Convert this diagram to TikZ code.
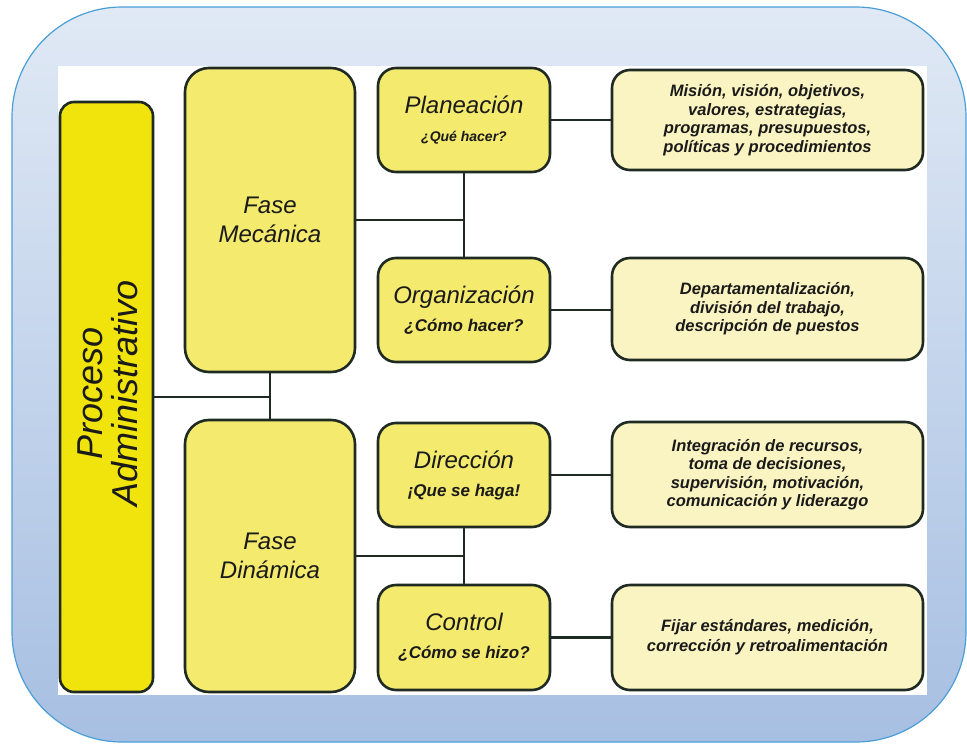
\documentclass[tikz,border=0pt]{standalone}
\usepackage{fontspec}
\setmainfont{Liberation Sans}
\definecolor{frameblue}{HTML}{4A9ED8}
\definecolor{bgtop}{HTML}{E0E9F5}
\definecolor{bgbot}{HTML}{A7BFE2}
\definecolor{edge}{HTML}{1F2B22}
\definecolor{mainyel}{HTML}{F0E40C}
\definecolor{phaseyel}{HTML}{F3EA6E}
\definecolor{detail}{HTML}{FAF4C2}
\definecolor{ink}{HTML}{1A1A1A}
\tikzset{
  box/.style={draw=edge, line width=2.6pt, rounded corners=#1, inner sep=0pt,
    text=ink, align=center},
  phasebox/.style={box=24pt, fill=phaseyel, minimum width=170pt,
    font=\fontsize{24}{29}\selectfont\itshape},
  stagebox/.style={box=18pt, fill=phaseyel, minimum width=172pt, minimum height=104pt,
    font=\fontsize{24}{28}\selectfont},
  detailbox/.style={box=18pt, fill=detail, minimum width=311pt,
    font=\fontsize{16.5}{18.5}\selectfont\bfseries\itshape},
  conn/.style={draw=edge, line width=2.6pt}
}
\newcommand{\stagetitle}[1]{{\fontsize{24}{28}\selectfont\itshape #1}}
\newcommand{\stagesub}[2]{{\fontsize{#1}{28}\selectfont\bfseries\itshape #2}}
\begin{document}
\begin{tikzpicture}[x=1pt, y=-1pt]
\useasboundingbox (0,0) rectangle (967,744);
% backdrop panel with a soft vertical gradient
\path[draw=frameblue, line width=1.2pt, top color=bgtop, bottom color=bgbot,
  rounded corners=110pt] (12,7) rectangle (966,742);
\fill[white] (58,66) rectangle (927,695);

% main process bar
\node[box=14pt, fill=mainyel, minimum width=93pt, minimum height=590pt] (pa) at (106.5,397) {};
\node[rotate=90, text=ink, align=center, font=\fontsize{36}{35}\selectfont\itshape]
  (palabel) at (108,393) {Proceso\\Administrativo};

% phases
\node[phasebox, minimum height=304pt] (fm) at (270,220) {Fase\\Mecánica};
\node[phasebox, minimum height=272pt] (fd) at (270,556) {Fase\\Dinámica};

% stages
\node[stagebox] (pl) at (464,120) {\stagetitle{Planeación}\\\stagesub{14}{¿Qué hacer?}};
\node[stagebox] (org) at (464,310) {\stagetitle{Organización}\\\stagesub{17}{¿Cómo hacer?}};
\node[stagebox] (dir) at (464,475) {\stagetitle{Dirección}\\\stagesub{17}{¡Que se haga!}};
\node[stagebox, minimum height=105pt] (ctl) at (464,637.5) {\stagetitle{Control}\\\stagesub{17}{¿Cómo se hizo?}};

% details
\node[detailbox, minimum height=100pt] (mis) at (767.5,120)
  {Misión, visión, objetivos,\\valores, estrategias,\\programas, presupuestos,\\políticas y procedimientos};
\node[detailbox, minimum height=102pt] (dep) at (767.5,309)
  {Departamentalización,\\división del trabajo,\\descripción de puestos};
\node[detailbox, minimum height=105pt] (int) at (767.5,474.5)
  {Integración de recursos,\\toma de decisiones,\\supervisión, motivación,\\comunicación y liderazgo};
\node[detailbox, minimum height=105pt, font=\fontsize{16.5}{20}\selectfont\bfseries\itshape] (fij) at (767.5,637.5)
  {Fijar estándares, medición,\\corrección y retroalimentación};

% connectors
\draw[conn] (pa.east) -- (pa.east -| fm.south);
\draw[conn] (fm.south) -- (fd.north);
\draw[conn] (fm.east) -- (fm.east -| pl.south);
\draw[conn] (pl.south) -- (org.north);
\draw[conn] (fd.east) -- (fd.east -| dir.south);
\draw[conn] (dir.south) -- (ctl.north);
\draw[conn] (pl.east) -- (pl.east -| mis.west);
\draw[conn] (org.east) -- (org.east -| dep.west);
\draw[conn] (dir.east) -- (dir.east -| int.west);
\draw[conn] (ctl.east) -- (ctl.east -| fij.west);
\end{tikzpicture}
\end{document}
